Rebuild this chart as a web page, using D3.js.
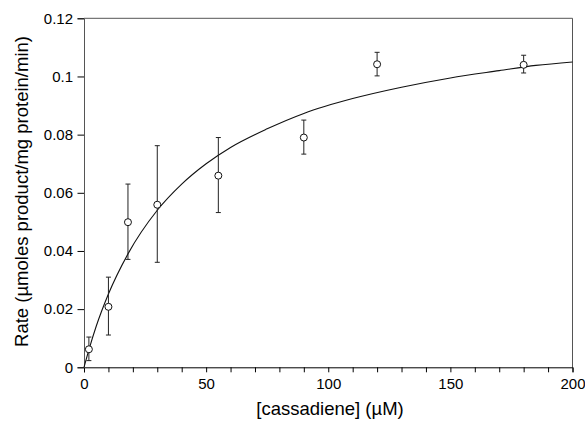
<!DOCTYPE html>
<meta charset="utf-8">
<html>
<head>
<style>
  body { margin: 0; background: #fff; }
  text { font-family: "Liberation Sans", Arial, sans-serif; }
</style>
</head>
<body>
<script src="https://d3js.org/d3.v7.min.js"></script>
<svg width="585" height="421"></svg>
<script>
    // measured points: substrate conc (uM), rate, error bar ends
    var conc = [2, 10, 18, 30, 55, 90, 120, 180];
    var rate = [0.0062, 0.0208, 0.0499, 0.0559, 0.0659, 0.079, 0.1042, 0.104];
    var errHi = [0.0104, 0.031, 0.063, 0.0762, 0.079, 0.085, 0.1083, 0.1073];
    var errLo = [0.0023, 0.0111, 0.0371, 0.0361, 0.0532, 0.0733, 0.1002, 0.1012];

    // fitted curve
    var fitX = [0, 2, 5, 10, 18, 30, 40, 50, 60, 75, 90, 110, 130, 150, 170, 185, 200];
    var fitY = [0, 0.006, 0.0141, 0.0252, 0.039, 0.054, 0.063, 0.070, 0.0756, 0.082, 0.0873, 0.0924, 0.0963, 0.0995, 0.102, 0.1038, 0.105];

    var yTicks = [0, 0.02, 0.04, 0.06, 0.08, 0.1, 0.12];
    var xTicks = [0, 50, 100, 150, 200];

    var svg = d3.select("svg"),
        margin = {top: 18.3, right: 12.5, bottom: 53.7, left: 84},
        width = 585 - margin.left - margin.right,
        height = 421 - margin.top - margin.bottom;

    var g = svg.append("g")
        .attr("transform", "translate(" + margin.left + "," + margin.top + ")");

    var x = d3.scaleLinear().domain([0, 200]).range([0, width]);
    var y = d3.scaleLinear().domain([0, 0.12]).range([height, 0]);

    // frame top/right
    g.append("line").attr("x1", 0).attr("x2", width).attr("y1", 0).attr("y2", 0)
        .attr("stroke", "#555").attr("stroke-width", 1);
    g.append("line").attr("x1", width).attr("x2", width).attr("y1", 0).attr("y2", height)
        .attr("stroke", "#555").attr("stroke-width", 1);

    // x axis, minor ticks every 10
    var xAxis = g.append("g")
        .attr("transform", "translate(0," + height + ")")
        .call(d3.axisBottom(x).tickValues(d3.range(0, 201, 10)).tickSize(5).tickPadding(6.5)
            .tickFormat(function (d) { return xTicks.indexOf(d) >= 0 ? d : ""; }));
    xAxis.selectAll("text").attr("font-size", "15px").attr("fill", "#000")
        .style("font-family", "Liberation Sans, Arial, sans-serif");
    xAxis.select(".domain").attr("stroke", "#000");

    var yAxis = g.append("g")
        .call(d3.axisLeft(y).tickValues(yTicks).tickSize(6.5).tickPadding(4.5)
            .tickFormat(function (d) { return d === 0 ? "0" : d3.format("")(+d.toFixed(2)); }));
    yAxis.selectAll("text").attr("font-size", "15px").attr("fill", "#000")
        .style("font-family", "Liberation Sans, Arial, sans-serif");
    yAxis.select(".domain").attr("stroke", "#555");

    // fitted curve
    var line = d3.line()
        .x(function (d, i) { return x(fitX[i]); })
        .y(function (d, i) { return y(fitY[i]); })
        .curve(d3.curveMonotoneX);
    g.append("path").datum(fitX)
        .attr("d", line)
        .attr("fill", "none")
        .attr("stroke", "#111")
        .attr("stroke-width", 1.1);

    // error bars
    var pts = g.selectAll(".pt").data(conc).enter().append("g").attr("class", "pt");
    pts.append("line")
        .attr("x1", function (d) { return x(d); }).attr("x2", function (d) { return x(d); })
        .attr("y1", function (d, i) { return y(errLo[i]); })
        .attr("y2", function (d, i) { return y(errHi[i]); })
        .attr("stroke", "#222").attr("stroke-width", 1);
    pts.append("line")
        .attr("x1", function (d) { return x(d) - 2.5; }).attr("x2", function (d) { return x(d) + 2.5; })
        .attr("y1", function (d, i) { return y(errHi[i]); })
        .attr("y2", function (d, i) { return y(errHi[i]); })
        .attr("stroke", "#222").attr("stroke-width", 1);
    pts.append("line")
        .attr("x1", function (d) { return x(d) - 2.5; }).attr("x2", function (d) { return x(d) + 2.5; })
        .attr("y1", function (d, i) { return y(errLo[i]); })
        .attr("y2", function (d, i) { return y(errLo[i]); })
        .attr("stroke", "#222").attr("stroke-width", 1);
    pts.append("circle")
        .attr("cx", function (d) { return x(d); })
        .attr("cy", function (d, i) { return y(rate[i]); })
        .attr("r", 3.5)
        .attr("fill", "#fff")
        .attr("stroke", "#111")
        .attr("stroke-width", 1);

    // axis labels
    svg.append("text")
        .attr("x", 330)
        .attr("y", 415)
        .attr("text-anchor", "middle")
        .attr("font-size", "18.5px")
        .text("[cassadiene] (\u00b5M)");

    svg.append("text")
        .attr("transform", "translate(28,191.5) rotate(-90)")
        .attr("text-anchor", "middle")
        .attr("font-size", "18.5px")
        .text("Rate (\u00b5moles product/mg protein/min)");
</script>
</body>
</html>
